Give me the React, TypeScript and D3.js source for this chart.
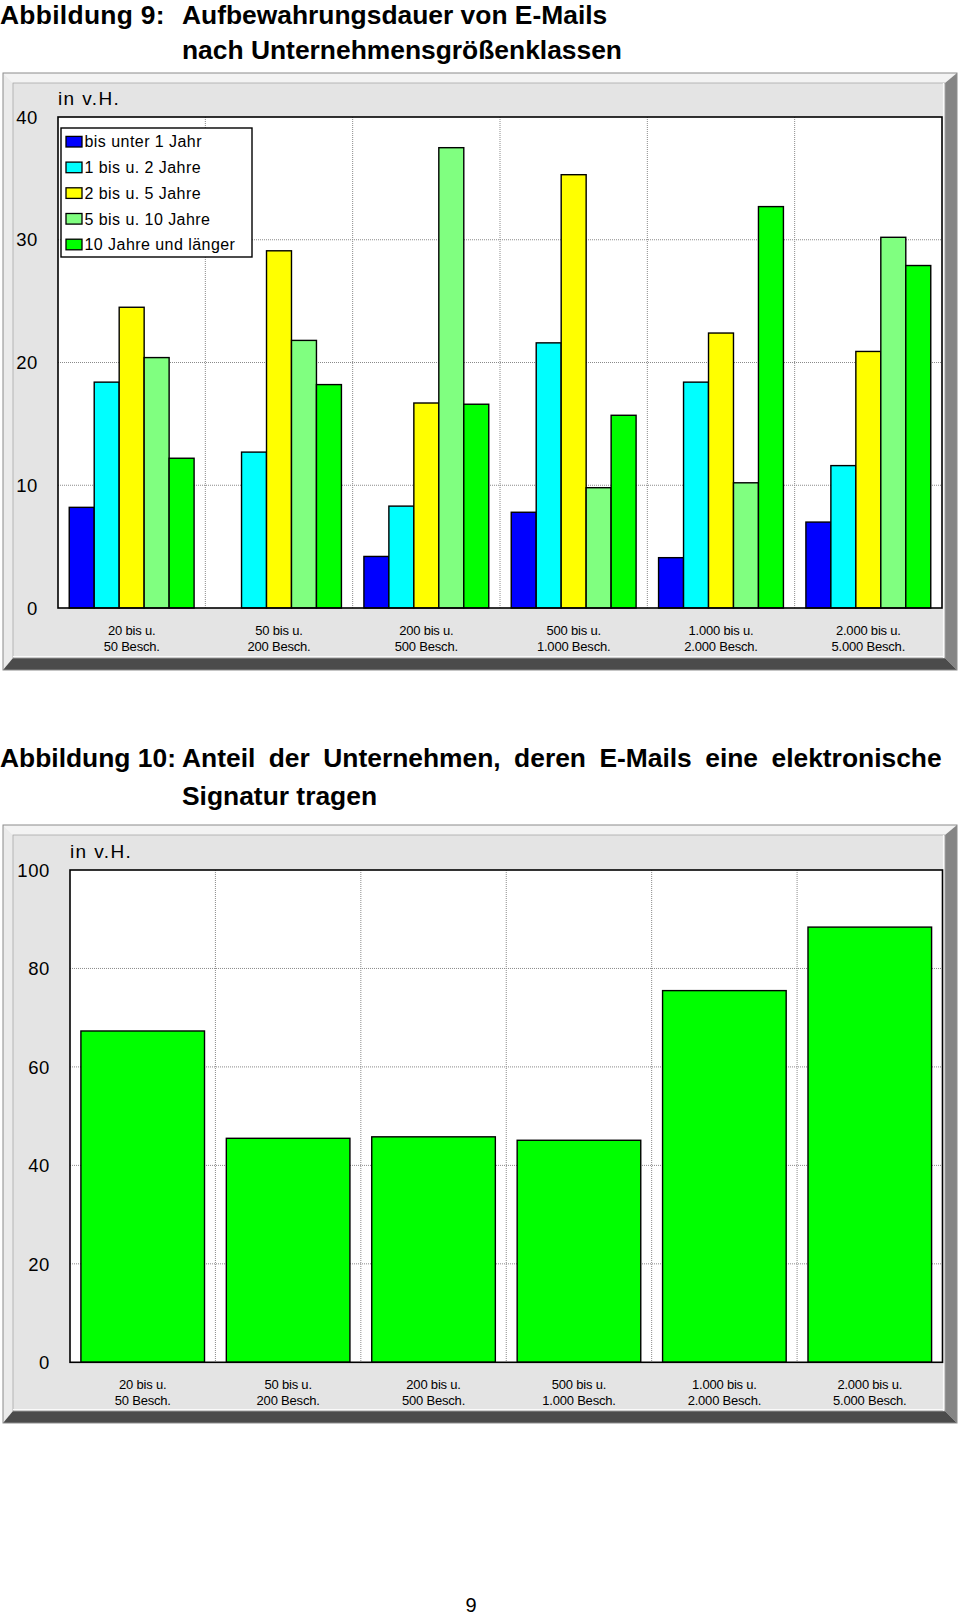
import * as d3 from "d3";

// size classes (x axis, two lines per label)
const sizeTop = ["20 bis u.", "50 bis u.", "200 bis u.", "500 bis u.", "1.000 bis u.", "2.000 bis u."];
const sizeBottom = ["50 Besch.", "200 Besch.", "500 Besch.", "1.000 Besch.", "2.000 Besch.", "5.000 Besch."];

// Abbildung 9: retention period, in v.H.
const retentionSeries = ["bis unter 1 Jahr", "1 bis u. 2 Jahre", "2 bis u. 5 Jahre", "5 bis u. 10 Jahre", "10 Jahre und länger"];
const seriesColors = ["#0000ff", "#00ffff", "#ffff00", "#80ff80", "#00ff00"];
const under1Year = [8.2, 0, 4.2, 7.8, 4.1, 7.0];
const years1to2 = [18.4, 12.7, 8.3, 21.6, 18.4, 11.6];
const years2to5 = [24.5, 29.1, 16.7, 35.3, 22.4, 20.9];
const years5to10 = [20.4, 21.8, 37.5, 9.8, 10.2, 30.2];
const years10plus = [12.2, 18.2, 16.6, 15.7, 32.7, 27.9];
const retentionTicks = [0, 10, 20, 30, 40];

// Abbildung 10: share with electronic signature, in v.H.
const signatureShare = [67.3, 45.5, 45.8, 45.1, 75.5, 88.4];
const signatureTicks = [0, 20, 40, 60, 80, 100];

const FONT = "'Liberation Sans', Arial, Helvetica, sans-serif";

function Frame({ x0, y0, x1, y1 }: { x0: number; y0: number; x1: number; y1: number }) {
  const il = x0 + 10, it = y0 + 10, ir = x1 - 12, ib = y1 - 12;
  return (
    <g>
      <polygon points={`${x0},${y0} ${x1},${y0} ${ir},${it} ${il},${it}`} fill="#f3f3f3" />
      <polygon points={`${x0},${y0} ${il},${it} ${il},${ib} ${x0},${y1}`} fill="#ebebeb" />
      <polygon points={`${x1},${y0} ${x1},${y1} ${ir},${ib} ${ir},${it}`} fill="#858585" />
      <polygon points={`${x0},${y1} ${x1},${y1} ${ir},${ib} ${il},${ib}`} fill="#4b4b4b" />
      <rect x={x0} y={y0} width={x1 - x0} height={y1 - y0} fill="none" stroke="#8c8c8c" strokeWidth={1} />
      <rect x={il} y={it} width={ir - il} height={ib - it} fill="#e4e4e4" stroke="#a8a8a8" strokeWidth={0.8} />
      <line x1={il} x2={ir - 1} y1={ib - 1.5} y2={ib - 1.5} stroke="#fafafa" strokeWidth={1.2} />
      <line x1={ir - 1.5} x2={ir - 1.5} y1={it} y2={ib} stroke="#fafafa" strokeWidth={1.2} />
    </g>
  );
}

function Axes({ x, y, ticks, left, right, top, bottom, labelGap }: any) {
  const cats = x.domain();
  return (
    <g>
      <rect x={left} y={top} width={right - left} height={bottom - top} fill="#fff" />
      {ticks.slice(1, -1).map((t: number) => (
        <line key={"h" + t} x1={left} x2={right} y1={y(t)} y2={y(t)} stroke="#8a8a8a" strokeDasharray="1,1" />
      ))}
      {cats.slice(1).map((c: string) => (
        <line key={"v" + c} x1={x(c)} x2={x(c)} y1={top} y2={bottom} stroke="#8a8a8a" strokeDasharray="1,1" />
      ))}
      {ticks.map((t: number) => (
        <text key={"t" + t} x={left - labelGap} y={y(t)} dy="0.36em" textAnchor="end" fontSize={18.5} letterSpacing={0.6} fontFamily={FONT}>
          {t}
        </text>
      ))}
      <text x={left} y={top - 12} fontSize={19} letterSpacing={1.4} fontFamily={FONT}>in v.H.</text>
      {cats.map((c: string, i: number) => (
        <text key={"c" + c} x={x(c) + x.bandwidth() / 2} textAnchor="middle" fontSize={13} letterSpacing={-0.2} fontFamily={FONT}>
          <tspan x={x(c) + x.bandwidth() / 2} y={bottom + 27}>{sizeTop[i]}</tspan>
          <tspan x={x(c) + x.bandwidth() / 2} y={bottom + 43}>{sizeBottom[i]}</tspan>
        </text>
      ))}
    </g>
  );
}

export default function App() {
  const cats = sizeTop.map((d, i) => d + " " + sizeBottom[i]);

  // chart 1
  const p1 = { left: 58, right: 942, top: 117, bottom: 608 };
  const x1 = d3.scaleBand().domain(cats).range([p1.left, p1.right]).padding(0);
  const xs = d3.scaleBand().domain(retentionSeries).range([0, x1.bandwidth()]).paddingInner(0).paddingOuter(0.45);
  const y1 = d3.scaleLinear().domain([0, 40]).range([p1.bottom, p1.top]);
  const retentionValues = [under1Year, years1to2, years2to5, years5to10, years10plus];

  // chart 2
  const p2 = { left: 70, right: 942.5, top: 870, bottom: 1362.3 };
  const x2 = d3.scaleBand().domain(cats).range([p2.left, p2.right]).padding(0);
  const y2 = d3.scaleLinear().domain([0, 100]).range([p2.bottom, p2.top]);

  const titleStyle = { fontFamily: FONT, fontWeight: 700, fontSize: 26.4 } as const;

  return (
    <div style={{ position: "absolute", left: 0, top: 0 }}>
      <svg width={960} height={1618} style={{ display: "block", background: "#fff" }}>
        {/* Abbildung 9 */}
        <text x={0} y={24} {...titleStyle} letterSpacing={0.3}>Abbildung 9:</text>
        <text x={182} y={24} {...titleStyle}>Aufbewahrungsdauer von E-Mails</text>
        <text x={182} y={59} {...titleStyle}>nach Unternehmensgrößenklassen</text>

        <Frame x0={3} y0={73} x1={957} y1={670} />
        <Axes x={x1} y={y1} ticks={retentionTicks} {...p1} labelGap={20} />
        {cats.map((c, i) => (
          <g key={c} transform={`translate(${x1(c)},0)`}>
            {retentionSeries.map((s, j) => {
              const v = retentionValues[j][i];
              return (
                <rect key={s} x={xs(s)} y={y1(v)} width={xs.bandwidth()} height={y1(0) - y1(v)}
                  fill={seriesColors[j]} stroke="#000" strokeWidth={1.4} />
              );
            })}
          </g>
        ))}
        <rect x={p1.left} y={p1.top} width={p1.right - p1.left} height={p1.bottom - p1.top} fill="none" stroke="#000" strokeWidth={1.6} />

        {/* legend */}
        <g transform="translate(61,128)">
          <rect width={191} height={129} fill="#fff" stroke="#000" strokeWidth={1.4} />
          {retentionSeries.map((s, j) => (
            <g key={s} transform={`translate(0,${13.7 + j * 25.7})`}>
              <rect x={5} y={-5.3} width={16} height={10.6} fill={seriesColors[j]} stroke="#000" strokeWidth={1.3} />
              <text x={23.5} y={0} dy="0.36em" fontSize={16} letterSpacing={0.45} fontFamily={FONT}>{s}</text>
            </g>
          ))}
        </g>

        {/* Abbildung 10 */}
        <text x={0} y={767} {...titleStyle}>Abbildung 10:</text>
        <text x={182} y={767} {...titleStyle} wordSpacing={6.1}>Anteil der Unternehmen, deren E-Mails eine elektronische</text>
        <text x={182} y={805} {...titleStyle}>Signatur tragen</text>

        <Frame x0={3} y0={825} x1={957} y1={1423} />
        <Axes x={x2} y={y2} ticks={signatureTicks} {...p2} labelGap={20} />
        {cats.map((c, i) => {
          const bw = x2.bandwidth();
          const v = signatureShare[i];
          return (
            <rect key={c} x={(x2(c) as number) + bw * 0.075} y={y2(v)} width={bw * 0.85} height={y2(0) - y2(v)}
              fill="#00ff00" stroke="#000" strokeWidth={1.4} />
          );
        })}
        <rect x={p2.left} y={p2.top} width={p2.right - p2.left} height={p2.bottom - p2.top} fill="none" stroke="#000" strokeWidth={1.6} />

        <text x={471} y={1612} textAnchor="middle" fontSize={20} fontFamily={FONT}>9</text>
      </svg>
    </div>
  );
}
